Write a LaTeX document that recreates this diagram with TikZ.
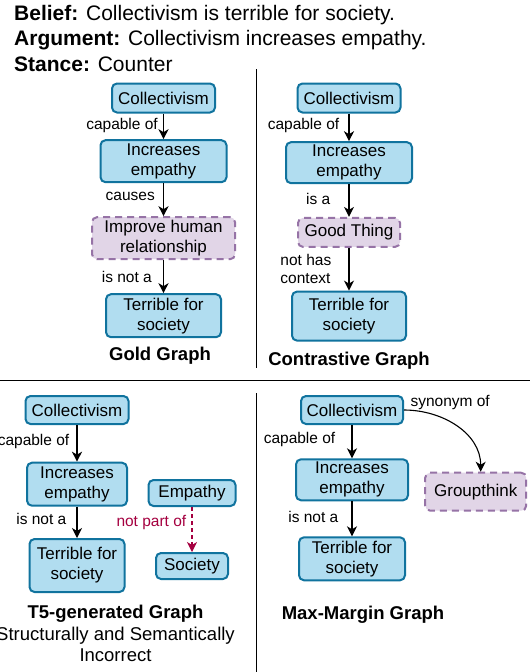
\documentclass[tikz,border=0pt]{standalone}
\usepackage{fontspec}
\setmainfont{Liberation Sans}
\usetikzlibrary{positioning,arrows.meta}
\definecolor{boxfill}{HTML}{B1DDF0}
\definecolor{boxline}{HTML}{10739E}
\definecolor{hypfill}{HTML}{E1D5E7}
\definecolor{hypline}{HTML}{9673A6}
\definecolor{badrel}{HTML}{A50040}
\tikzset{
  cpt/.style={rectangle,draw=boxline,fill=boxfill,line width=2pt,rounded corners=5pt,align=center,inner sep=1pt,font=\fontsize{17}{20}\selectfont},
  hyp/.style={cpt,draw=hypline,fill=hypfill,dash pattern=on 7pt off 5pt},
  rel/.style={-{Stealth[length=10pt,width=10pt,inset=3pt]},line width=1.4pt},
  badedge/.style={rel,draw=badrel,dash pattern=on 4pt off 3pt},
  lbl/.style={font=\fontsize{15.5}{18}\selectfont,inner sep=0pt,align=left},
  ttl/.style={font=\fontsize{18.5}{21.7}\selectfont\bfseries,anchor=base,inner sep=0pt},
  hdr/.style={font=\fontsize{21}{25}\selectfont,anchor=base west,inner sep=0pt},
  sep/.style={line width=1pt}
}
\begin{document}
\begin{tikzpicture}[x=1pt,y=-1pt]
\useasboundingbox[fill=white] (0,0) rectangle (530,672);
% header
\node[hdr] (belief) at (14,20) {\textbf{Belief:} Collectivism is terrible for society.};
\node[hdr] (argument) at (14,45.7) {\textbf{Argument:} Collectivism increases empathy.};
\node[hdr] (stance) at (14,71) {\textbf{Stance:} Counter};
% separators
\draw[sep] (256,69) -- (256,368);
\draw[sep] (0,380) -- (530,380);
\draw[sep] (256.7,393) -- (256.7,672);
% gold graph
\node[cpt,minimum width=103pt,minimum height=29pt] (g1) at (163.5,98) {Collectivism};
\node[cpt,minimum width=126pt,minimum height=42pt,below=25.7pt of g1] (g2) {Increases\\empathy};
\node[hyp,minimum width=143pt,minimum height=42pt,below=33pt of g2] (g3) {Improve human\\relationship};
\node[cpt,minimum width=115pt,minimum height=43pt,below=33pt of g3] (g4) {Terrible for\\society};
\draw[rel] (g1) -- node[lbl,left=5pt,pos=0.45]{capable of} (g2);
\draw[rel] (g2) -- node[lbl,left=8pt,pos=0.4]{causes} (g3);
\draw[rel] (g3) -- node[lbl,left=11pt]{is not a} (g4);
\node[ttl] (gtitle) at (160,360) {Gold Graph};
% contrastive graph
\node[cpt,minimum width=103pt,minimum height=29pt] (c1) at (349,98) {Collectivism};
\node[cpt,minimum width=126pt,minimum height=41pt,below=27.7pt of c1] (c2) {Increases\\empathy};
\node[hyp,minimum width=102pt,minimum height=29pt,below=32.7pt of c2] (c3) {Good Thing};
\node[cpt,minimum width=114pt,minimum height=49pt,below=42.7pt of c3] (c4) {Terrible for\\society};
\draw[rel] (c1) -- node[lbl,left=9pt,pos=0.45]{capable of} (c2);
\draw[rel] (c2) -- node[lbl,left=18pt,pos=0.45]{is a} (c3);
\draw[rel] (c3) -- node[lbl,left=17pt]{not has\\context} (c4);
\node[ttl] (ctitle) at (349,365) {Contrastive Graph};
% t5-generated graph
\node[cpt,minimum width=103pt,minimum height=28pt] (t1) at (77,410) {Collectivism};
\node[cpt,minimum width=100pt,minimum height=43pt,below=36.7pt of t1] (t2) {Increases\\empathy};
\node[cpt,minimum width=95pt,minimum height=53pt,below=31.3pt of t2] (t3) {Terrible for\\society};
\node[cpt,minimum width=87pt,minimum height=26pt] (t4) at (192,493) {Empathy};
\node[cpt,minimum width=72pt,minimum height=26pt,below=45pt of t4] (t5) {Society};
\draw[rel] (t1) -- node[lbl,left=7pt,pos=0.45]{capable of} (t2);
\draw[rel] (t2) -- node[lbl,left=10pt,pos=0.4]{is not a} (t3);
\draw[badedge] (t4) -- node[lbl,text=badrel,left=5pt,pos=0.35]{not part of} (t5);
\node[ttl] (ttitle) at (115.5,618.5) {T5-generated Graph};
\node[font=\fontsize{18.5}{21.7}\selectfont,align=center,anchor=north,inner sep=0pt] (tnote) at (115.5,626.5) {Structurally and Semantically\\Incorrect};
% max-margin graph
\node[cpt,minimum width=102pt,minimum height=28pt] (m1) at (352,410) {Collectivism};
\node[cpt,minimum width=112pt,minimum height=41pt,below=33.3pt of m1] (m2) {Increases\\empathy};
\node[cpt,minimum width=106pt,minimum height=43pt,below=35pt of m2] (m3) {Terrible for\\society};
\node[hyp,minimum width=101pt,minimum height=38pt] (m4) at (475.7,491.7) {Groupthink};
\draw[rel] (m1) -- node[lbl,left=16pt,pos=0.45]{capable of} (m2);
\draw[rel] (m2) -- node[lbl,left=13pt,pos=0.45]{is not a} (m3);
\draw[rel,line width=1.1pt] (m1.east) to[out=0,in=90] node[lbl,pos=0,anchor=south west,xshift=6pt]{synonym of} ([xshift=5pt]m4.north);
\node[ttl] (mtitle) at (363,619.3) {Max-Margin Graph};
\end{tikzpicture}
\end{document}
